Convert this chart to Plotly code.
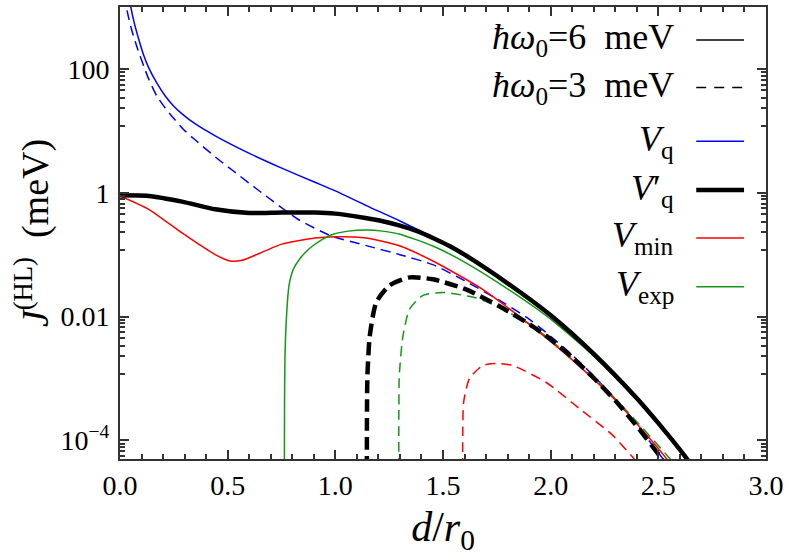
import plotly.graph_objects as go

# readings: d/r0 and J^(HL) in meV
x_vq6 = [0.03, 0.049, 0.065, 0.087, 0.11, 0.133, 0.17, 0.21, 0.25, 0.288, 0.35, 0.442, 0.596, 0.751, 0.905, 1.0, 1.144, 1.3, 1.453, 1.6, 1.8, 2.0, 2.2, 2.4, 2.5, 2.6, 2.65]
j_vq6 = [2.8e3, 1.05e3, 5.75e2, 3.02e2, 1.66e2, 1.05e2, 6.0e1, 3.66e1, 2.5e1, 1.88e1, 1.29e1, 8.3, 4.4, 2.5, 1.48, 1.07, 6.2e-1, 3.5e-1, 1.9e-1, 1.0e-1, 3.55e-2, 1.1e-2, 2.6e-3, 5.0e-4, 2.0e-4, 7.4e-5, 4.4e-5]

x_vq3 = [0.025, 0.033, 0.055, 0.08, 0.115, 0.133, 0.17, 0.21, 0.25, 0.295, 0.35, 0.442, 0.519, 0.658, 0.828, 0.982, 1.144, 1.3, 1.453, 1.6, 1.79, 1.9, 2.0, 2.1, 2.2, 2.3, 2.4, 2.5, 2.53]
j_vq3 = [1.6e3, 8.7e2, 4.17e2, 2.19e2, 1.0e2, 6.9e1, 3.7e1, 2.34e1, 1.58e1, 1.05e1, 7.1, 3.8, 2.35, 1.0, 3.7e-1, 2.0e-1, 1.4e-1, 1.0e-1, 6.9e-2, 3.8e-2, 1.6e-2, 9.1e-3, 4.8e-3, 2.4e-3, 1.1e-3, 4.6e-4, 1.8e-4, 6.3e-5, 4.6e-5]

x_vqp6 = [0.0, 0.133, 0.288, 0.442, 0.6, 0.75, 0.905, 1.0, 1.14, 1.22, 1.3, 1.38, 1.453, 1.53, 1.6, 1.8, 2.0, 2.2, 2.4, 2.5, 2.6, 2.65]
j_vqp6 = [9.1e-1, 8.9e-1, 7.2e-1, 5.4e-1, 4.7e-1, 4.8e-1, 4.8e-1, 4.6e-1, 3.9e-1, 3.47e-1, 2.95e-1, 2.4e-1, 1.86e-1, 1.38e-1, 1.0e-1, 3.45e-2, 1.05e-2, 2.5e-3, 4.8e-4, 1.9e-4, 7.1e-5, 4.2e-5]

x_vmin6 = [0.0, 0.133, 0.288, 0.365, 0.442, 0.51, 0.566, 0.674, 0.751, 0.905, 1.0, 1.144, 1.3, 1.453, 1.684, 1.916, 2.1, 2.3, 2.4, 2.5, 2.55]
j_vmin6 = [8.9e-1, 5.4e-1, 2.24e-1, 1.48e-1, 1.0e-1, 7.9e-2, 8.1e-2, 1.15e-1, 1.48e-1, 1.86e-1, 1.95e-1, 1.86e-1, 1.38e-1, 7.9e-2, 2.75e-2, 6.8e-3, 2.0e-3, 4.5e-4, 1.86e-4, 7.4e-5, 4.5e-5]

x_vexp6 = [0.7625, 0.764, 0.766, 0.774, 0.785, 0.805, 0.836, 0.88, 0.936, 0.99, 1.06, 1.144, 1.22, 1.3, 1.453, 1.6, 1.8, 2.0, 2.2, 2.4, 2.5, 2.6, 2.66]
j_vexp6 = [1e-6, 3.2e-4, 2.1e-3, 1.12e-2, 3.2e-2, 5.8e-2, 8.7e-2, 1.26e-1, 1.74e-1, 2.14e-1, 2.4e-1, 2.5e-1, 2.4e-1, 2.14e-1, 1.38e-1, 7.6e-2, 2.8e-2, 9.1e-3, 2.3e-3, 4.5e-4, 1.8e-4, 6.9e-5, 3.8e-5]

x_vqp3 = [1.146, 1.147, 1.149, 1.16, 1.19, 1.252, 1.345, 1.453, 1.607, 1.76, 1.9, 2.0, 2.1, 2.2, 2.3, 2.4, 2.5, 2.52]
j_vqp3 = [1e-6, 3.2e-4, 1.12e-3, 4.9e-3, 1.7e-2, 3.2e-2, 4.3e-2, 4.0e-2, 2.75e-2, 1.48e-2, 7.6e-3, 4.3e-3, 2.2e-3, 1.02e-3, 4.4e-4, 1.7e-4, 6.0e-5, 4.9e-5]

x_vexp3 = [1.294, 1.295, 1.297, 1.314, 1.345, 1.407, 1.5, 1.654, 1.76, 1.9, 2.0, 2.1, 2.2, 2.3, 2.4, 2.5, 2.56]
j_vexp3 = [1e-6, 3.2e-4, 1.12e-3, 4.9e-3, 1.32e-2, 2.2e-2, 2.45e-2, 2.0e-2, 1.41e-2, 7.6e-3, 4.2e-3, 2.1e-3, 1.02e-3, 4.7e-4, 2.0e-4, 8.3e-5, 4.8e-5]

x_vmin3 = [1.591, 1.592, 1.596, 1.623, 1.684, 1.746, 1.823, 1.978, 2.132, 2.286, 2.37, 2.4]
j_vmin3 = [1e-6, 1.6e-4, 4.2e-4, 1.0e-3, 1.62e-3, 1.74e-3, 1.62e-3, 8.7e-4, 3.3e-4, 1.23e-4, 5.9e-5, 4.5e-5]

x_ticks = [0.0, 0.5, 1.0, 1.5, 2.0, 2.5, 3.0]
x_ticktext = ["0.0", "0.5", "1.0", "1.5", "2.0", "2.5", "3.0"]
y_ticks = [1e-4, 1e-2, 1, 100]
y_ticktext = ["10<sup>\u22124</sup>", "0.01", "1", "100"]

BLUE = "#0000ff"
RED = "#ff0000"
GREEN = "#119911"
FONT = "Liberation Serif"

fig = go.Figure()

curves = [
    (x_vq3, j_vq3, BLUE, 1.5, "10px,6px"),
    (x_vexp3, j_vexp3, GREEN, 1.5, "10px,6px"),
    (x_vmin3, j_vmin3, RED, 1.5, "10px,6px"),
    (x_vq6, j_vq6, BLUE, 1.5, "solid"),
    (x_vmin6, j_vmin6, RED, 1.5, "solid"),
    (x_vexp6, j_vexp6, GREEN, 1.5, "solid"),
    (x_vqp6, j_vqp6, "black", 4.5, "solid"),
    (x_vqp3, j_vqp3, "black", 4.5, "13px,6px"),
]
for xs, js, col, w, dash in curves:
    fig.add_trace(go.Scatter(
        x=xs, y=js, mode="lines",
        line=dict(color=col, width=w, dash=dash, shape="spline", smoothing=0.6),
        showlegend=False, hoverinfo="skip"
    ))

# minor ticks as drawn in the original (linear steps between majors)
x_minor = [round(i * 0.1, 1) for i in range(31) if i % 5]
y_minor = []
for lo in [1e-6, 1e-4, 1e-2, 1]:
    hi = lo * 100
    y_minor += [lo + k * (hi - lo) / 9 for k in range(1, 9)]

axis_common = dict(
    showgrid=False, zeroline=False, showline=True, linewidth=2, linecolor="#333",
    mirror="allticks", ticks="inside", tickwidth=2, tickcolor="#333", ticklen=9,
    tickfont=dict(family=FONT, size=28, color="black"),
)

fig.update_xaxes(
    range=[0, 3], tickmode="array", tickvals=x_ticks, ticktext=x_ticktext,
    ticklabelstandoff=0,
    minor=dict(ticks="inside", ticklen=5, tickwidth=1.5, tickcolor="#333",
               tickmode="array", tickvals=x_minor, showgrid=False),
    title=dict(text="<i>d</i>/<i>r</i><sub>0</sub>", font=dict(family=FONT, size=42, color="black"), standoff=18),
    **axis_common
)
fig.update_yaxes(
    type="log", range=[-4.3, 3.0], tickmode="array", tickvals=y_ticks, ticktext=y_ticktext,
    ticklabelstandoff=3,
    minor=dict(ticks="inside", ticklen=5, tickwidth=1.5, tickcolor="#333",
               tickmode="array", tickvals=y_minor, showgrid=False),
    title=dict(text="<i>J</i><sup>(HL)</sup>\u2002(meV)", font=dict(family=FONT, size=38, color="black"), standoff=0),
    **axis_common
)

# legend, drawn the way the original shows it: label on the left, sample on the right
legend_rows = [
    ("<i>\u0127\u03c9</i><sub>0</sub>=6\u2002meV", "black", 1.5, "solid", 0.927),
    ("<i>\u0127\u03c9</i><sub>0</sub>=3\u2002meV", "black", 1.5, "10px,8px", 0.822),
    ("<i>V</i><sub>q</sub>", BLUE, 1.5, "solid", 0.703),
    ("<i>V</i>\u2032<sub>q</sub>", "black", 4.5, "solid", 0.595),
    ("<i>V</i><sub>min</sub>", RED, 1.5, "solid", 0.489),
    ("<i>V</i><sub>exp</sub>", GREEN, 1.5, "solid", 0.381),
]
for text, col, w, dash, yy in legend_rows:
    fig.add_annotation(
        x=0.86, y=yy, xref="paper", yref="paper", xanchor="right", yanchor="middle",
        text=text, showarrow=False, font=dict(family=FONT, size=36, color="black")
    )
    fig.add_shape(
        type="line", xref="paper", yref="paper", x0=0.892, x1=0.966, y0=yy, y1=yy,
        line=dict(color=col, width=w, dash=dash)
    )

fig.update_layout(
    width=789, height=556, autosize=False,
    margin=dict(l=120, r=21, t=5, b=97),
    plot_bgcolor="white", paper_bgcolor="white",
    font=dict(family=FONT, color="black"),
)

fig.write_html("out.html", config={"displayModeBar": False},
               post_script="document.body.style.margin='0px';")
